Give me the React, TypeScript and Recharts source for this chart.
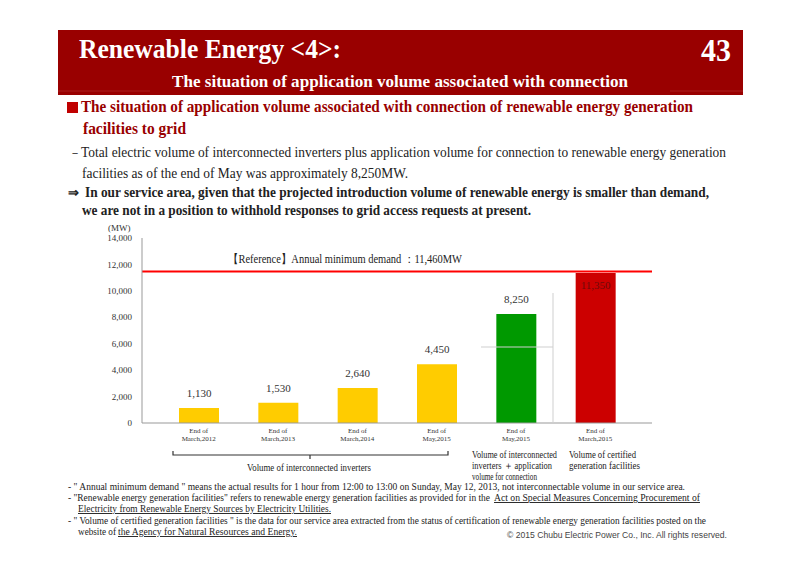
import React from 'react';
import { BarChart, Bar, Cell, XAxis, YAxis, ReferenceLine, LabelList } from 'recharts';

const periodHead = 'End of';
const periods = ['March,2012', 'March,2013', 'March,2014', 'May,2015', 'May,2015', 'March,2015'];
const volumes = [1130, 1530, 2640, 4450, 8250, 11350];
const barColors = ['#FFCC00', '#FFCC00', '#FFCC00', '#FFCC00', '#009900', '#CC0000'];
const yTicks = [0, 2000, 4000, 6000, 8000, 10000, 12000, 14000];
const minimumDemand = 11460;
const demandLabel = '【Reference】Annual minimum demand ：11,460MW';

const data = periods.map((p, i) => ({ key: String(i), period: p, value: volumes[i] }));

const SERIF = '"Liberation Serif", "Times New Roman", serif';
const SANS = '"Liberation Sans", Arial, sans-serif';

const fmt = (v: number) => v.toLocaleString('en-US');

function T({ x, y, w, size, bold, fill = '#222', anchor, children, underline }: any) {
  return (
    <text
      x={x}
      y={y}
      textLength={w}
      lengthAdjust={w ? 'spacingAndGlyphs' : undefined}
      fontSize={size}
      fontWeight={bold ? 'bold' : 'normal'}
      fontFamily={SERIF}
      fill={fill}
      textAnchor={anchor}
      style={underline ? { textDecoration: 'underline' } : undefined}
    >
      {children}
    </text>
  );
}

function PeriodTick({ x, y, payload }: any) {
  const i = Number(payload.value);
  return (
    <text x={x} y={y} textAnchor="middle" fontFamily={SERIF} fontSize={7} fill="#333">
      <tspan x={x} dy={10}>{periodHead}</tspan>
      <tspan x={x} dy={7.5}>{periods[i]}</tspan>
    </text>
  );
}

function ValueLabel({ x, y, width, value, index }: any) {
  const cx = x + width / 2;
  if (index === periods.length - 1) {
    return (
      <text x={cx} y={y + 16} textAnchor="middle" fontFamily={SERIF} fontSize={11} fill="#6e0a0a">
        {fmt(value)}
      </text>
    );
  }
  return (
    <text x={cx} y={y - 11} textAnchor="middle" fontFamily={SERIF} fontSize={11} fill="#333">
      {fmt(value)}
    </text>
  );
}

function DemandLabel({ viewBox }: any) {
  return (
    <text x={viewBox.x + 86} y={viewBox.y - 9} fontFamily={SERIF} fontSize={12} fill="#222"
      textLength={234} lengthAdjust="spacingAndGlyphs">
      {demandLabel}
    </text>
  );
}

function Slide() {
  return (
    <svg width={800} height={566} style={{ position: 'absolute', left: 0, top: 0, pointerEvents: 'none' }}>
      {/* title band */}
      <rect x={58} y={30} width={685} height={65} fill="#990000" />
      <line x1={58} y1={91} x2={150} y2={91} stroke="#b33" strokeWidth={0.6} />
      <line x1={670} y1={91} x2={743} y2={91} stroke="#b33" strokeWidth={0.6} />
      <T x={79} y={58} w={262} size={28} bold fill="#fff">Renewable Energy &lt;4&gt;:</T>
      <T x={731} y={61} w={30} size={31} bold fill="#fff" anchor="end">43</T>
      <T x={172} y={87} w={456} size={17} bold fill="#fff">The situation of application volume associated with connection</T>

      <rect x={67} y={102} width={11} height={11} fill="#c00000" />
      <T x={81} y={112} w={612} size={16.5} bold fill="#990000">The situation of application volume associated with connection of renewable energy generation</T>
      <T x={83} y={134} w={103} size={16.5} bold fill="#990000">facilities to grid</T>

      <T x={69} y={157} size={12} fill="#222">－</T>
      <T x={81} y={157} w={645} size={14}>Total electric volume of interconnected inverters plus application volume for connection  to renewable energy generation</T>
      <T x={82} y={178} w={326} size={14}>facilities as of the end of May was approximately 8,250MW.</T>
      <T x={68} y={197} size={13} bold>⇒</T>
      <T x={85} y={197} w={624} size={14} bold>In our service area, given that the projected introduction volume of renewable energy is smaller than demand,</T>
      <T x={82} y={215} w={449} size={14} bold>we are not in a position to withhold responses to grid access requests at present.</T>

      {/* chart annotations */}
      <T x={108} y={231} size={9} fill="#333">(MW)</T>
      <line x1={553} y1={293} x2={553} y2={423} stroke="#cfcfcf" strokeWidth={1} />
      <line x1={481} y1={347} x2={553} y2={347} stroke="#cfcfcf" strokeWidth={1} />

      <path d="M173,451 L173,455 L448,455 L448,451 M310,455 L310,459" stroke="#333" strokeWidth={1.2} fill="none" />
      <T x={309} y={471} w={124} size={9.5} anchor="middle">Volume of interconnected inverters</T>
      <T x={472} y={458} w={85} size={9.5}>Volume of interconnected</T>
      <T x={472} y={469} w={80} size={9.5}>inverters ＋ application</T>
      <T x={472} y={480} w={65} size={9.5}>volume for connection</T>
      <T x={569} y={458} w={67} size={9.5}>Volume of certified</T>
      <T x={569} y={469} w={71} size={9.5}>generation facilities</T>

      {/* footnotes */}
      <T x={68} y={490} w={617} size={9.5}>- " Annual minimum demand " means the actual results for 1 hour from 12:00 to 13:00 on Sunday, May 12, 2013, not interconnectable volume in our service area.</T>
      <T x={68} y={501} w={422} size={9.5}>- "Renewable energy generation facilities" refers to renewable energy generation facilities as provided for in the</T>
      <T x={494} y={501} w={206} size={9.5} underline>Act on Special Measures Concerning Procurement of</T>
      <T x={78} y={512} w={253} size={9.5} underline>Electricity from Renewable Energy Sources by Electricity Utilities.</T>
      <T x={68} y={524} w={638} size={9.5}>- " Volume of certified generation facilities " is the data for our service area extracted from the status of certification of renewable energy generation facilities posted on the</T>
      <T x={78} y={535} w={38} size={9.5}>website of</T>
      <T x={118} y={535} w={179} size={9.5} underline>the Agency for Natural Resources and Energy.</T>
      <text x={727} y={538} textAnchor="end" fontFamily={SANS} fontSize={8.5} fill="#444"
        textLength={220} lengthAdjust="spacingAndGlyphs">© 2015 Chubu Electric Power Co., Inc. All rights reserved.</text>
    </svg>
  );
}

export default function App() {
  return (
    <div style={{ position: 'fixed', left: 0, top: 0, width: 800, height: 566, background: '#fff', overflow: 'hidden' }}>
      <div style={{ position: 'absolute', left: 0, top: 0 }}>
        <BarChart width={800} height={566} data={data} margin={{ top: 238, right: 148, bottom: 113, left: 95 }}>
          <XAxis
            dataKey="key"
            height={30}
            tick={<PeriodTick />}
            tickLine={false}
            tickSize={0}
            tickMargin={0}
            axisLine={{ stroke: '#999' }}
            padding={{ left: 17, right: 17 }}
            interval={0}
          />
          <YAxis
            width={47}
            domain={[0, 14000]}
            ticks={yTicks}
            tickFormatter={fmt}
            tickLine={false}
            tickSize={0}
            tickMargin={10}
            axisLine={{ stroke: '#999' }}
            tick={{ fontSize: 9, fill: '#333', fontFamily: SERIF }}
          />
          <Bar dataKey="value" barSize={40} isAnimationActive={false}>
            {data.map((_, i) => (
              <Cell key={i} fill={barColors[i]} />
            ))}
            <LabelList dataKey="value" content={<ValueLabel />} />
          </Bar>
          <ReferenceLine y={minimumDemand} stroke="#ff0000" strokeWidth={2} label={<DemandLabel />} />
        </BarChart>
      </div>
      <Slide />
    </div>
  );
}
